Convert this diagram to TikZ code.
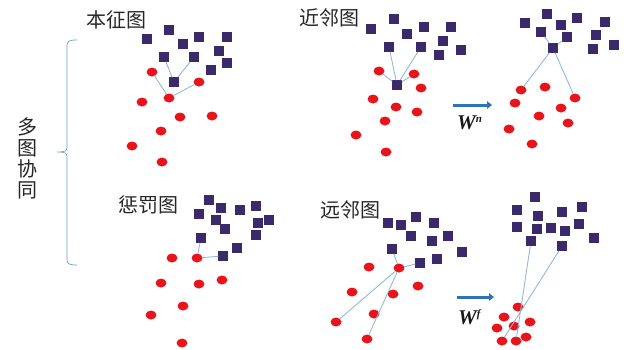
\documentclass[tikz,border=0pt]{standalone}
\usepackage{fontspec}
\usetikzlibrary{shapes.geometric,arrows.meta}
\newfontfamily\cjk{Noto Sans CJK SC}
\newfontfamily\wfont{Liberation Serif}
\definecolor{sqc}{HTML}{3A2A6B}
\definecolor{rc}{HTML}{E8141B}
\definecolor{lnc}{HTML}{8DB6DC}
\definecolor{arc}{HTML}{2E74B5}
\definecolor{brc}{HTML}{6A9FD3}
\newcommand{\supsm}[1]{\raisebox{7pt}{\fontsize{11}{11}\selectfont #1}}
\begin{document}
\begin{tikzpicture}[x=1pt,y=-1pt,
  sq/.style={rectangle,fill=sqc,minimum size=9.5pt,inner sep=0pt,outer sep=0pt},
  rd/.style={ellipse,fill=rc,minimum width=11pt,minimum height=9pt,inner sep=0pt,outer sep=0pt},
  ln/.style={draw=lnc,line width=0.85pt},
  lab/.style={font=\cjk\fontsize{20}{21}\selectfont,text=black!85,inner sep=0pt},
  wlab/.style={font=\wfont\bfseries\itshape\fontsize{21}{21}\selectfont,inner sep=0pt,anchor=west,text=black!90},
  arw/.style={draw=arc,line width=3pt,-{Triangle[length=5pt,width=7.5pt]}},
  brace/.style={draw=brc,line width=0.7pt}]
\useasboundingbox (0,0) rectangle (626,349);

% labels
\node[lab] (t1) at (116,20) {本征图};
\node[lab] (t2) at (329,18) {近邻图};
\node[lab] (t3) at (148,205) {惩罚图};
\node[lab] (t4) at (350,210) {远邻图};
\node[lab,align=center] (t5) at (27,158) {多\\图\\协\\同};

% brace
\draw[brace] (77,40) .. controls (69,40) and (67,41) .. (67,46) -- (67,147)
  .. controls (67,151) and (65,152) .. (57,152)
  .. controls (65,152) and (67,153) .. (67,157) -- (67,259)
  .. controls (67,264) and (69,265) .. (77,265);

% panel 1
\foreach \n/\p in {a1/{147,39},a2/{169,30},a3/{199,37},a4/{227,37},a5/{183,44},a6/{164,57},a7/{194,57},a8/{219,51},a9/{227,63},a10/{211,70},a11/{174,82}}
  \node[sq] (\n) at (\p) {};
\foreach \n/\p in {ac1/{152,72},ac2/{199,82},ac3/{169,98},ac4/{142,102},ac5/{180,117},ac6/{212,116},ac7/{161,131},ac8/{132,146},ac9/{162,162}}
  \node[rd] (\n) at (\p) {};
\draw[ln] (a6) -- (a11) (a7) -- (a11) (ac1) -- (ac3) (ac3) -- (ac2);

% panel 2
\foreach \n/\p in {b1/{371,29},b2/{394,19},b3/{407,34},b4/{424,27},b5/{451,27},b6/{443,41},b7/{389,47},b8/{421,47},b9/{439,55},b10/{461,50},b11/{397,85}}
  \node[sq] (\n) at (\p) {};
\foreach \n/\p in {bc1/{379,71},bc2/{414,74},bc3/{421,88},bc4/{373,99},bc5/{396,107},bc6/{417,112},bc7/{385,121},bc8/{356,135},bc9/{386,152}}
  \node[rd] (\n) at (\p) {};
\draw[ln] (b7) -- (b11) (b8) -- (b11) (bc1) -- (b11) (b11) -- (bc2);

% panel 3
\foreach \n/\p in {c1/{525,23},c2/{547,14},c3/{561,25},c4/{577,18},c5/{605,22},c6/{541,32},c7/{567,37},c8/{596,35},c9/{553,48},c10/{593,49},c11/{614,45}}
  \node[sq] (\n) at (\p) {};
\foreach \n/\p in {cc1/{521,90},cc2/{545,87},cc3/{575,98},cc4/{515,103},cc5/{561,108},cc6/{539,116},cc7/{568,123},cc8/{509,129},cc9/{532,144}}
  \node[rd] (\n) at (\p) {};
\draw[ln] (c9) -- (c6) (c9) -- (c7) (c9) -- (cc1) (c9) -- (cc3);

% panel 4
\foreach \n/\p in {d1/{209,200},d2/{221,208},d3/{199,214},d4/{216,220},d5/{225,229},d6/{240,210},d7/{256,206},d8/{258,223},d9/{269,220},d10/{256,235},d11/{201,238},d12/{237,248},d13/{223,256}}
  \node[sq] (\n) at (\p) {};
\foreach \n/\p in {dc1/{172,258},dc2/{197,258},dc3/{161,283},dc4/{199,284},dc5/{222,280},dc6/{183,306},dc7/{151,315},dc8/{182,343}}
  \node[rd] (\n) at (\p) {};
\draw[ln] (dc2) -- (d11) (dc2) -- (d13);

% panel 5
\foreach \n/\p in {e1/{388,223},e2/{401,225},e3/{416,217},e4/{434,223},e5/{411,236},e6/{432,241},e7/{448,236},e8/{392,249},e9/{462,252},e10/{420,263},e11/{437,259}}
  \node[sq] (\n) at (\p) {};
\foreach \n/\p in {ec1/{369,267},ec2/{399,268},ec3/{352,292},ec4/{393,294},ec5/{418,286},ec6/{374,314},ec7/{336,322},ec8/{367,339}}
  \node[rd] (\n) at (\p) {};
\draw[ln] (e8) -- (ec2) (ec2) -- (e10) (ec2) -- (ec7) (ec2) -- (ec8);

% panel 6
\foreach \n/\p in {f1/{535,197},f2/{517,210},f3/{538,216},f4/{562,212},f5/{582,207},f6/{517,227},f7/{537,229},f8/{551,228},f9/{565,231},f10/{579,224},f11/{594,238},f12/{531,241},f13/{562,246}}
  \node[sq] (\n) at (\p) {};
\foreach \n/\p in {fc1/{518,307},fc2/{504,317},fc3/{530,322},fc4/{514,326},fc5/{497,328},fc6/{526,337},fc7/{502,341},fc8/{516,341}}
  \node[rd] (\n) at (\p) {};
\draw[ln] (f12) -- (fc8) (f13) -- (fc7);

% arrows
\coordinate (r1s) at (453,105);
\coordinate (r1e) at (492,105);
\coordinate (r2s) at (457,297);
\coordinate (r2e) at (494,297);
\draw[arw] (r1s) -- (r1e);
\draw[arw] (r2s) -- (r2e);
\node[wlab] (wn) at (457,123) {W\supsm{n}};
\node[wlab] (wf) at (458,317) {W\supsm{f}};
\end{tikzpicture}
\end{document}
